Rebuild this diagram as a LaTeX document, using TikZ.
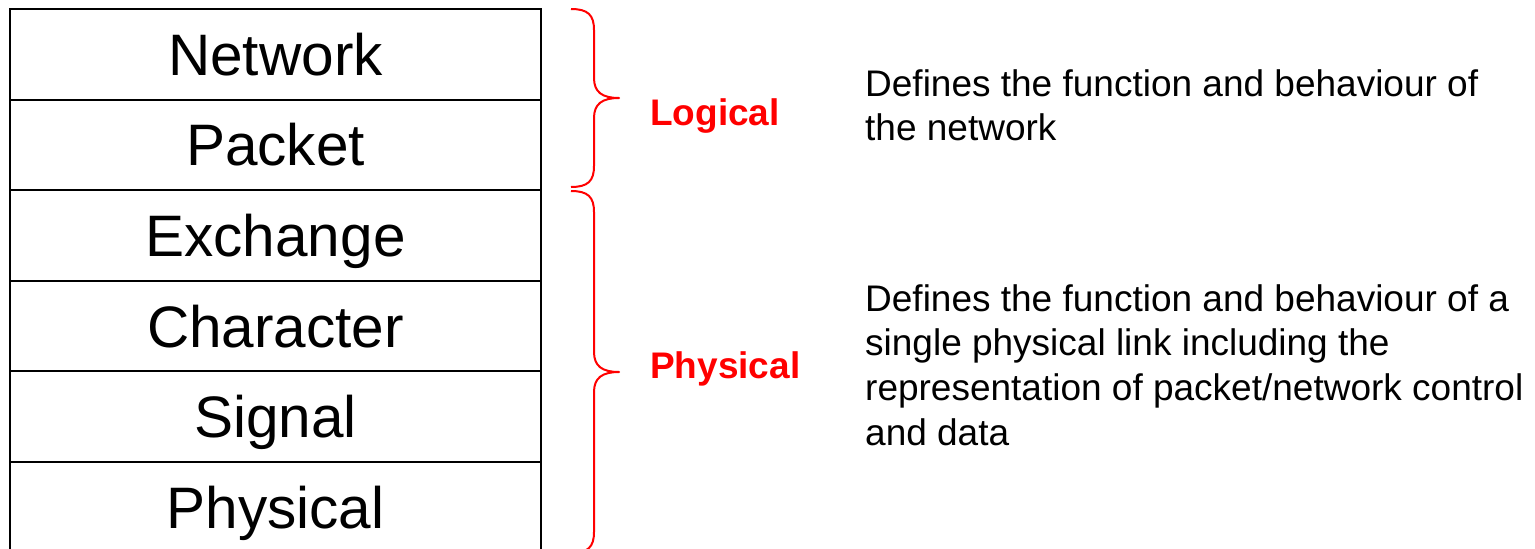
\documentclass[tikz,border=0pt]{standalone}
\usepackage{fontspec}
\setmainfont{Liberation Sans}
\begin{document}
\begin{tikzpicture}[x=1pt,y=-1pt,
  layer/.style={draw=black, line width=2pt, minimum width=531pt, minimum height=90.6pt,
    inner sep=0pt, text height=42pt, text depth=0pt, font=\fontsize{58.5}{70}\selectfont},
  bracepath/.style={draw=red, line width=2pt, line join=round},
  grouplabel/.style={anchor=base west, inner sep=0pt, text=red, font=\fontsize{37}{44}\selectfont\bfseries},
  desc/.style={anchor=north west, inner sep=0pt, align=left, font=\fontsize{37}{44.7}\selectfont}]
\useasboundingbox (0,0) rectangle (1535,549);
\fill[white] (0,0) rectangle (1535,549);
\begin{scope}
\clip (0,0) rectangle (1535,549);
\node[layer] (network)   at (275.5, 54.3)  {Network};
\node[layer] (packet)    at (275.5, 144.9) {Packet};
\node[layer] (exchange)  at (275.5, 235.5) {Exchange};
\node[layer] (character) at (275.5, 326.1) {Character};
\node[layer] (signal)    at (275.5, 416.7) {Signal};
\node[layer] (physical)  at (275.5, 507.3) {Physical};
% braces
\draw[bracepath] (571,9) .. controls (588,9) and (594,15) .. (594,30) -- (594,78)
  .. controls (594,92) and (602,98) .. (619,98)
  .. controls (602,98) and (594,104) .. (594,118) -- (594,166)
  .. controls (594,181) and (588,187) .. (571,187);
\draw[bracepath] (571,191) .. controls (588,191) and (594,197) .. (594,212) -- (594,352)
  .. controls (594,366) and (602,372) .. (619,372)
  .. controls (602,372) and (594,378) .. (594,392) -- (594,532)
  .. controls (594,547) and (588,553) .. (571,553);
\end{scope}
\node[grouplabel] (logical) at (650,125) {Logical};
\node[grouplabel] (physlabel) at (650,378) {Physical};
\node[desc] (desclogical) at (865,69) {Defines the function and behaviour of\\the network};
\node[desc] (descphysical) at (865,284) {Defines the function and behaviour of a\\single physical link including the\\representation of packet/network control\\and data};
\end{tikzpicture}
\end{document}
